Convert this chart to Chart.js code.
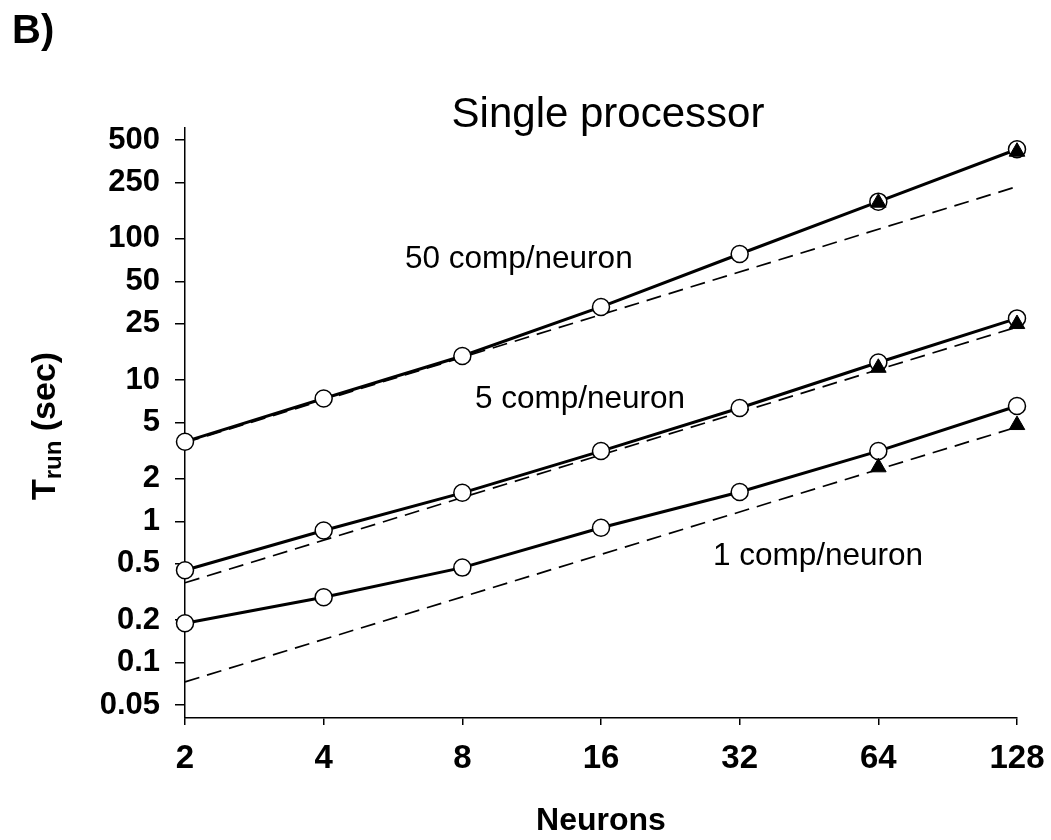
<!DOCTYPE html>
<html>
<head>
<meta charset="utf-8">
<script src="https://cdn.jsdelivr.net/npm/chart.js@4.4.1/dist/chart.umd.min.js"></script>
<style>
  html, body { margin: 0; padding: 0; background: #fff; }
</style>
</head>
<body>
<canvas id="myChart-Trun" width="1051" height="840"></canvas>
<script>
// values
const neurons = [2, 4, 8, 16, 32, 64, 128];
const yTickValues = [0.05, 0.1, 0.2, 0.5, 1, 2, 5, 10, 25, 50, 100, 250, 500];

const comp50 = [3.66, 7.4, 14.8, 32.9, 78, 183, 430];
const comp5 = [0.45, 0.86, 1.59, 3.14, 6.34, 13.3, 27.3];
const comp1 = [0.19, 0.29, 0.47, 0.9, 1.61, 3.14, 6.55];

// filled triangles (only at the two largest sizes)
const neuronsTri = [64, 128];
const tri50 = [180, 413];
const tri5 = [12.2, 24.9];
const tri1 = [2.41, 4.8];

// dashed fit lines, end points
const fitX = [2, 128];
const fit50 = [3.6, 234];
const fit5 = [0.367, 23.7];
const fit1 = [0.073, 4.65];

const noteLabels = ['50 comp/neuron', '5 comp/neuron', '1 comp/neuron'];

const FONT = '"Liberation Sans", Arial, sans-serif';

function pts(xs, ys) {
  return xs.map((x, i) => ({ x: x, y: ys[i] }));
}

function solid(data) {
  return {
    data: data,
    borderColor: '#000',
    borderWidth: 3,
    pointRadius: 8.5,
    pointBackgroundColor: '#fff',
    pointBorderColor: '#000',
    pointBorderWidth: 1.5,
    clip: false,
    order: 1
  };
}

function dashed(data) {
  return {
    data: data,
    borderColor: '#000',
    borderWidth: 1.7,
    borderDash: [15, 8],
    pointRadius: 0,
    clip: false,
    order: 2
  };
}

function triangles(data) {
  return {
    data: data,
    showLine: false,
    pointStyle: 'triangle',
    pointRadius: 9,
    pointBackgroundColor: '#000',
    pointBorderColor: '#000',
    pointBorderWidth: 1,
    clip: false,
    order: 0
  };
}

const extraText = {
  id: 'extraText',
  afterDraw(chart) {
    const ctx = chart.ctx;
    ctx.save();
    ctx.fillStyle = '#000';
    ctx.textBaseline = 'alphabetic';

    ctx.textAlign = 'left';
    ctx.font = 'bold 40px ' + FONT;
    ctx.fillText('B)', 12, 43);

    ctx.textAlign = 'center';
    ctx.font = '42px ' + FONT;
    ctx.fillText('Single processor', 608, 127);

    ctx.textAlign = 'left';
    ctx.font = '31.5px ' + FONT;
    ctx.fillText(noteLabels[0], 405, 268);
    ctx.fillText(noteLabels[1], 475, 408);
    ctx.fillText(noteLabels[2], 713, 565);

    // y axis title with subscript
    ctx.translate(55, 426);
    ctx.rotate(-Math.PI / 2);
    const big = 'bold 34px ' + FONT;
    const small = 'bold 24px ' + FONT;
    ctx.font = big;
    const wT = ctx.measureText('T').width;
    const wSec = ctx.measureText(' (sec)').width;
    ctx.font = small;
    const wRun = ctx.measureText('run').width;
    let x0 = -(wT + wRun + wSec) / 2;
    ctx.font = big;
    ctx.fillText('T', x0, 0);
    ctx.font = small;
    ctx.fillText('run', x0 + wT, 6);
    ctx.font = big;
    ctx.fillText(' (sec)', x0 + wT + wRun, 0);
    ctx.restore();
  }
};

const ctxTrun = document.getElementById('myChart-Trun');

new Chart(ctxTrun, {
  type: 'line',
  data: {
    datasets: [
      triangles(pts(neuronsTri, tri50)),
      triangles(pts(neuronsTri, tri5)),
      triangles(pts(neuronsTri, tri1)),
      solid(pts(neurons, comp50)),
      solid(pts(neurons, comp5)),
      solid(pts(neurons, comp1)),
      dashed(pts(fitX, fit50)),
      dashed(pts(fitX, fit5)),
      dashed(pts(fitX, fit1))
    ]
  },
  options: {
    responsive: false,
    animation: false,
    layout: {
      padding: { left: 0, top: 128, right: 34, bottom: 0 }
    },
    plugins: {
      legend: { display: false },
      tooltip: { enabled: false }
    },
    scales: {
      x: {
        type: 'logarithmic',
        min: 2,
        max: 128,
        afterBuildTicks: (scale) => { scale.ticks = neurons.map(v => ({ value: v })); },
        afterFit: (scale) => {
          scale.height = 122;
          scale.paddingLeft = 0;
          scale.paddingRight = 0;
        },
        ticks: {
          callback: (v) => String(v),
          color: '#000',
          font: { family: FONT, size: 33, weight: 'bold' },
          padding: 14,
          autoSkip: false,
          maxRotation: 0
        },
        grid: {
          display: true,
          drawOnChartArea: false,
          drawTicks: true,
          tickLength: 7,
          color: '#000',
          lineWidth: 1.5
        },
        border: { display: true, color: '#000', width: 1.5 },
        title: {
          display: true,
          text: 'Neurons',
          color: '#000',
          font: { family: FONT, size: 32, weight: 'bold' },
          padding: 0
        }
      },
      y: {
        type: 'logarithmic',
        min: 0.0405,
        max: 608,
        afterBuildTicks: (scale) => { scale.ticks = yTickValues.map(v => ({ value: v })); },
        afterFit: (scale) => { scale.width = 185; },
        ticks: {
          callback: (v) => String(v),
          color: '#000',
          font: { family: FONT, size: 31, weight: 'bold' },
          padding: 15,
          autoSkip: false
        },
        grid: {
          display: true,
          drawOnChartArea: false,
          drawTicks: true,
          tickLength: 10,
          color: '#000',
          lineWidth: 1.5
        },
        border: { display: true, color: '#000', width: 1.5 }
      }
    }
  },
  plugins: [extraText]
});
</script>
</body>
</html>
